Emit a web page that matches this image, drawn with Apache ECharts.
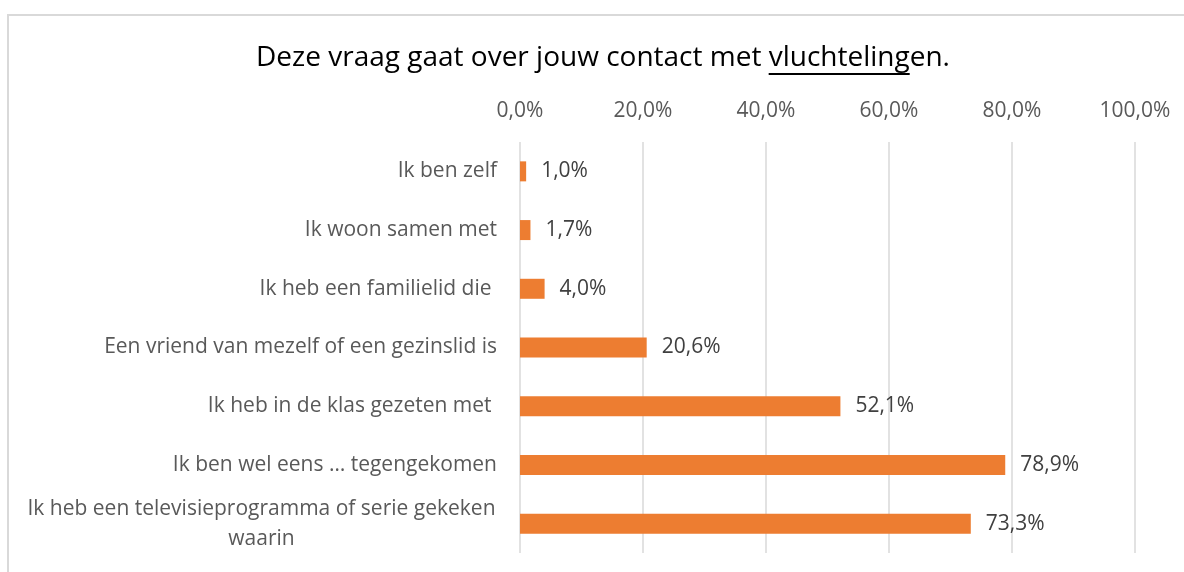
<!DOCTYPE html>
<html>
<head>
<meta charset="utf-8">
<script src="https://cdn.jsdelivr.net/npm/echarts@6/dist/echarts.min.js"></script>
<style>
  html, body { margin: 0; padding: 0; background: #fff; }
  #chart { width: 1184px; height: 572px; }
</style>
</head>
<body>
<div id="chart"></div>
<script>
// Contact met vluchtelingen - horizontal bars, axis on top
const categories = [
  'Ik ben zelf',
  'Ik woon samen met',
  'Ik heb een familielid die ',
  'Een vriend van mezelf of een gezinslid is',
  'Ik heb in de klas gezeten met ',
  'Ik ben wel eens … tegengekomen',
  'Ik heb een televisieprogramma of serie gekeken waarin'
];
const values = [1.0, 1.7, 4.0, 20.6, 52.1, 78.9, 73.3];
const titlePre = 'Deze vraag gaat over jouw contact met ';
const titleUnder = 'vluchteling';
const titlePost = 'en.';

const FONT = 'Open Sans';
const labelSize = 21;
const titleSize = 28;

function textWidth(s, size) {
  const ctx = document.createElement('canvas').getContext('2d');
  ctx.font = size + 'px "' + FONT + '"';
  return ctx.measureText(s).width;
}
const fmtPct = (v) => v.toFixed(1).replace('.', ',') + '%';

// title pieces, underline under "vluchteling"
const titleCx = 603;
const titleY = 58;
const fullW = textWidth(titlePre + titleUnder + titlePost, titleSize);
const ulX = titleCx - fullW / 2 + textWidth(titlePre, titleSize);
const ulW = textWidth(titleUnder, titleSize);

// the long category wraps, lines centred like Excel does
const wrapLines = ['Ik heb een televisieprogramma of serie gekeken', 'waarin'];
const wrapW = Math.ceil(textWidth(wrapLines[0], labelSize)) + 2;

const chart = echarts.init(document.getElementById('chart'));
chart.setOption({
  animation: false,
  textStyle: { fontFamily: FONT },
  grid: { left: 520, right: 49, top: 142, bottom: 19, containLabel: false },
  xAxis: {
    type: 'value',
    position: 'top',
    min: 0,
    max: 100,
    interval: 20,
    axisLine: { show: false },
    axisTick: { show: false },
    axisLabel: { color: '#595959', fontSize: labelSize, margin: 20, formatter: fmtPct },
    splitLine: { lineStyle: { color: '#d9d9d9', width: 1.5 } }
  },
  yAxis: {
    type: 'category',
    inverse: true,
    data: categories,
    axisLine: { show: false },
    axisTick: { show: false },
    axisLabel: {
      color: '#595959',
      fontSize: labelSize,
      margin: 23,
      lineHeight: 30,
      formatter: (v) => v.indexOf('televisie') >= 0
        ? '{w|' + wrapLines[0] + '}\n{w|' + wrapLines[1] + '}'
        : v,
      rich: { w: { width: wrapW, align: 'center', color: '#595959', fontSize: labelSize, lineHeight: 30 } }
    }
  },
  series: [{
    type: 'bar',
    data: values,
    barWidth: 20,
    itemStyle: { color: '#ed7d31' },
    label: {
      show: true,
      position: 'right',
      distance: 15,
      color: '#404040',
      fontSize: labelSize,
      formatter: (p) => fmtPct(p.value)
    }
  }],
  graphic: [
    {
      type: 'rect', silent: true, z: -10,
      shape: { x: 8, y: 15, width: 1300, height: 700 },
      style: { fill: 'none', stroke: '#d9d9d9', lineWidth: 2 }
    },
    {
      type: 'text', x: titleCx, y: titleY,
      style: {
        text: titlePre + titleUnder + titlePost,
        fill: '#000', fontSize: titleSize, fontFamily: FONT,
        align: 'center', verticalAlign: 'middle'
      }
    },
    {
      type: 'rect', silent: true,
      shape: { x: ulX, y: titleY + 15, width: ulW, height: 2 },
      style: { fill: '#000' }
    }
  ]
});
</script>
</body>
</html>
